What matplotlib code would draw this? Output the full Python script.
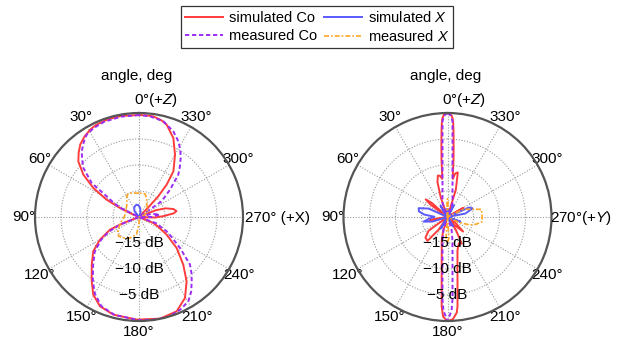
import numpy as np
import matplotlib
matplotlib.use('Agg')
import matplotlib.pyplot as plt

plt.rcParams['font.family'] = ['Liberation Sans', 'DejaVu Sans']
plt.rcParams['mathtext.fontset'] = 'custom'
plt.rcParams['mathtext.rm'] = 'Liberation Sans'
plt.rcParams['mathtext.it'] = 'Liberation Sans:italic'

# ---- data: angle (deg), level (dB, floor -20) ----
# left panel, XZ cut
l_sim_co_ang = [0, 10, 18, 25, 29, 34, 39, 43, 47.5, 52.7, 57.6, 61.8, 64.6, 67.6, 70,
                105, 111, 113.6, 120.2, 126.9, 135.2, 143.7, 149.5, 156.4, 165.3, 178.7,
                191.7, 201.8, 209.6, 216.5, 222.9, 230.5, 237.4, 243, 247.3, 252, 263, 268,
                272, 276, 279, 283, 288, 292, 297, 313, 316, 317, 319.5, 323, 330, 336.5,
                343.3, 347, 352, 356, 360]
l_sim_co_db = [-0.4, -0.25, -0.28, -0.45, -0.74, -1.3, -2.05, -3.0, -4.17, -6.55, -9.6, -12.9,
               -15.95, -18.8, -20, -20, -16.8, -13.9, -11.3, -9.0, -7.1, -4.64, -2.67, -1.26,
               -0.58, -0.26, -0.04, -0.47, -2.1, -4.6, -7.5, -10.6, -13.7, -15.8, -17.0, -20,
               -20, -17.0, -15.3, -13.3, -12.7, -13.2, -14.6, -16.5, -20, -20, -17.5, -14.6,
               -11.8, -9.0, -6.15, -3.44, -1.47, -0.9, -0.45, -0.4, -0.4]

l_meas_co_ang = [0, 10, 20, 27, 32.4, 36, 41.1, 44.5, 48.6, 54.3, 57.4, 61, 64, 68, 108,
                 112, 116, 121, 128, 136, 144, 150, 157, 166, 180, 190, 197, 204, 210.3, 215,
                 219.3, 223, 227, 232.9, 238, 242.6, 250, 256, 265, 270, 277, 284, 290, 298,
                 304.7, 311.4, 317.1, 321, 324.8, 328.5, 332.5, 338, 345.7, 353.8, 360]
l_meas_co_db = [-0.4, -0.4, -0.5, -0.8, -1.24, -2.0, -3.24, -4.4, -5.74, -8.8, -12.6, -14.5,
                -16, -20, -20, -16, -13.5, -11.5, -9.2, -7.3, -4.9, -3.0, -1.4, -0.6, -0.15,
                0, 0, -0.5, -1.2, -2.5, -4.0, -5.2, -6.6, -10.1, -12.5, -14, -16.5, -20, -20,
                -17.5, -16.0, -17.5, -20, -20, -14.7, -12.05, -8.9, -7.5, -6.1, -4.8, -3.6,
                -2.3, -1.0, -0.53, -0.4]

l_sim_x_ang = [-35, -20, -8, 3, 10, 18, 28, 38, 50]
l_sim_x_db = [-20, -19.2, -18.3, -17.7, -17.6, -17.7, -18.0, -18.6, -20]

l_meas_x_ang = [0, 6, 15, 25, 31, 38, 45, 60, 80, 95, 107.5, 121.5, 133, 143, 157, 172,
                181, 195, 285, 291, 305, 318, 328, 338, 345.4, 352, 360]
l_meas_x_db = [-15.4, -15.4, -15.2, -15.1, -15.4, -16.2, -16.7, -17.1, -17.3, -17.0, -16.2,
               -15.3, -14.6, -15.0, -15.6, -16.6, -18.8, -20, -20, -18.8, -18.0, -17.6, -17.2,
               -16.1, -15.4, -15.4, -15.4]

# right panel, YZ cut
r_sim_co_ang = [0, 2, 3, 3.5, 4, 5, 6, 7, 8, 10, 13, 16, 19, 24, 44, 48, 51, 54, 58, 94,
                100, 106, 121, 126, 133, 140, 145, 150, 158, 163, 166.6, 170.5, 173.3, 175.2,
                176.3, 177.5, 180, 183, 185.5, 186.4, 188.2, 191.5, 196.6, 203.6, 208, 213,
                218, 220, 227, 233, 238, 293, 300, 307, 338, 343, 347, 350, 352, 353, 354,
                355, 356, 356.5, 357, 358, 360]
r_sim_co_db = [0, -0.3, -1.0, -2.0, -3.5, -6.5, -9, -11.5, -12.6, -12.0, -11.8, -13, -16, -20,
               -20, -16, -14.6, -16, -20, -20, -16.5, -20, -20, -15.5, -14.2, -14.0, -17, -20,
               -20, -17, -15.2, -13.3, -10.4, -6.5, -2.7, -0.8, 0, -0.3, -1.5, -2.7, -6.5,
               -10.4, -13.3, -14.5, -14.2, -17, -20, -18, -15.9, -18, -20, -20, -16.5, -20,
               -20, -14.5, -11.2, -11.5, -12.6, -11.5, -9, -6.5, -3.5, -2.0, -1.0, -0.3, 0]

r_meas_co_ang = [0, 2, 3, 3.5, 4.2, 5, 6.5, 9, 14, 20, 26, 155, 162, 168, 172, 174, 175.5,
                 176.5, 177.5, 180, 182.5, 183.5, 184.5, 186, 188, 192, 198, 205, 334, 340,
                 346, 351, 353.5, 355, 355.8, 356.5, 357, 358, 360]
r_meas_co_db = [0, -0.5, -1.6, -4.25, -6.9, -9.0, -11.5, -13.85, -16, -17.2, -20, -20, -17.5,
                -15.4, -13.1, -10.8, -7.75, -4.25, -2.0, 0, -2.0, -4.25, -7.75, -10.8, -13.1,
                -15.4, -17.5, -20, -20, -17.2, -16, -13.85, -11.5, -9.0, -6.9, -4.25, -1.6,
                -0.5, 0]

r_sim_x_ang = [0, 15, 25, 32, 40, 60, 66, 73, 79, 84, 89, 95, 101, 107, 115, 140, 150, 160,
               175, 200, 210, 222, 240, 250, 258, 275, 281, 289, 294, 300, 320, 332, 345, 360]
r_sim_x_db = [-18.5, -20, -20, -17.5, -20, -20, -16, -14.2, -14.4, -15.5, -17.5, -16.5, -15.3,
              -17, -20, -20, -17.5, -20, -20, -20, -18, -20, -20, -17.4, -20, -20, -16.5,
              -14.9, -15.5, -20, -20, -17.5, -20, -18.5]

r_meas_x_ang = [-6, -2, 0, 2, 6, 20, 170, 176, 180, 184, 190, 240, 245, 250.4, 256, 262.3,
                272, 282.7, 287, 296, 300, 320, 354]
r_meas_x_db = [-20, -17, -16.5, -17, -20, -20, -20, -16, -15, -16, -20, -20, -17.5, -15.4,
               -14.3, -13.25, -13.35, -13.3, -14.9, -16.6, -20, -20, -20]

ring_db = [-15, -10, -5]
theta_labels = ['', '30°', '60°', '90°', '120°', '150°', '180°', '210°', '240°', '', '300°', '330°']

red = '#ff3c3c'
blue = '#5a5aff'
purple = '#9b2cf5'
orange = '#ffa526'

fig = plt.figure(figsize=(6.21, 3.43), dpi=100)
W, H = 621.0, 343.0
axL = fig.add_axes([35 / W, 22 / H, 208 / W, 208 / H], projection='polar')
axR = fig.add_axes([343.5 / W, 22 / H, 208 / W, 208 / H], projection='polar')

panels = [
    (axL, l_sim_co_ang, l_sim_co_db, l_sim_x_ang, l_sim_x_db,
     l_meas_co_ang, l_meas_co_db, l_meas_x_ang, l_meas_x_db, '270° (+X)', 1.009),
    (axR, r_sim_co_ang, r_sim_co_db, r_sim_x_ang, r_sim_x_db,
     r_meas_co_ang, r_meas_co_db, r_meas_x_ang, r_meas_x_db, '270°(+$Y$)', 0.995),
]

for (ax, sca, scd, sxa, sxd, mca, mcd, mxa, mxd, lab270, x270) in panels:
    ax.set_theta_zero_location('N')
    ax.set_theta_direction(1)
    ax.set_rlim(-20, 0)

    h1, = ax.plot(np.deg2rad(sca), scd, color=red, lw=1.4, label='simulated Co')
    h2, = ax.plot(np.deg2rad(sxa), sxd, color=blue, lw=1.4, label='simulated $X$')
    h3, = ax.plot(np.deg2rad(mca), mcd, color=purple, lw=1.4, dashes=(2.2, 1.4),
                  label='measured Co')
    h4, = ax.plot(np.deg2rad(mxa), mxd, color=orange, lw=1.2, dashes=(3, 1.2, 1, 1.2),
                  label='measured $X$')

    ax.set_xticks(np.deg2rad(np.arange(0, 360, 30)))
    ax.set_xticklabels(theta_labels, fontsize=11)
    ax.set_xticks(np.deg2rad(np.arange(15, 360, 30)), minor=True)
    ax.tick_params(axis='x', which='both', direction='in', length=3, width=0.8,
                   color='#555555', pad=1)
    ax.set_yticks(ring_db)
    ax.set_yticklabels([])
    ax.grid(True, linestyle=(0, (1, 1.5)), color='#999999', lw=0.8)
    ax.spines['polar'].set_color('#555555')
    ax.spines['polar'].set_linewidth(1.6)

    for r in ring_db:
        ax.text(np.pi, r, '\u2212%d dB' % abs(r), ha='center', va='center', fontsize=11)

    ax.text(0.49, 1.178, 'angle, deg', transform=ax.transAxes, ha='center',
            va='center', fontsize=11)
    ax.text(0.475, 1.063, '0°(+$Z$)', transform=ax.transAxes, ha='left',
            va='center', fontsize=11)
    ax.text(x270, 0.495, lab270, transform=ax.transAxes, ha='left',
            va='center', fontsize=11)

fig.legend(handles=[h1, h3, h2, h4], ncol=2, loc='upper center',
           bbox_to_anchor=(317 / W, 1 - 6 / H), fontsize=10.5, frameon=True,
           fancybox=False, edgecolor='#333333', framealpha=1, handlelength=2.6,
           handletextpad=0.4, columnspacing=0.5, labelspacing=0.3, borderpad=0.25,
           borderaxespad=0)
fig.legends[0].get_frame().set_linewidth(0.9)

fig.savefig('out.png', dpi=100)
